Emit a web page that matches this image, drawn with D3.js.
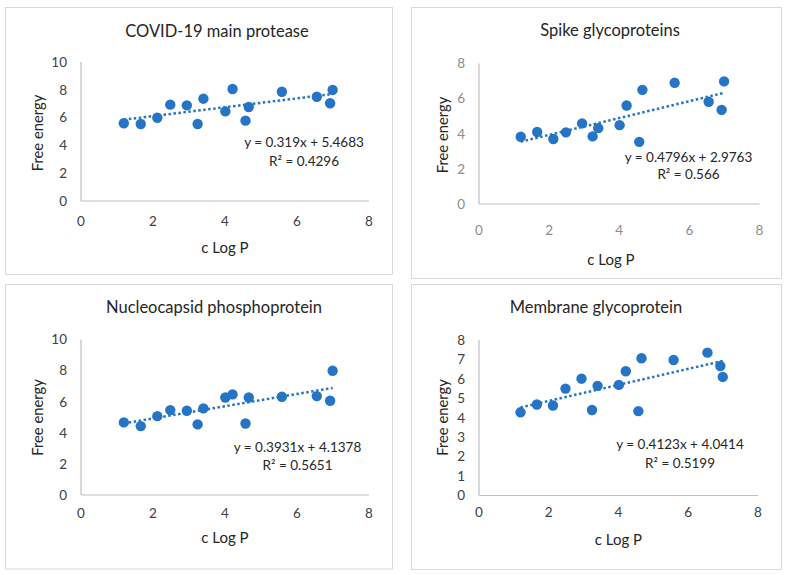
<!DOCTYPE html>
<html><head><meta charset="utf-8">
<script src="https://cdn.jsdelivr.net/npm/d3@7"></script>
<style>
html,body{margin:0;padding:0;background:#fff;}
text{font-family:Lato,"Open Sans",sans-serif;}
</style></head>
<body>
<svg id="chart" width="787" height="575"></svg>
<script>
// ---- data ----
const cLogP = [1.19, 1.66, 2.12, 2.48, 2.94, 3.24, 3.40, 4.01, 4.21, 4.57, 4.66, 5.58, 6.55, 6.92, 6.99];
const mainProtease = [5.59, 5.54, 5.99, 6.93, 6.88, 5.54, 7.36, 6.45, 8.06, 5.78, 6.76, 7.86, 7.50, 7.03, 7.99];
const spikeGlyco = [3.83, 4.10, 3.70, 4.08, 4.59, 3.85, 4.32, 4.49, 5.61, 3.54, 6.50, 6.90, 5.82, 5.36, 6.98];
const nucleocapsid = [4.67, 4.43, 5.07, 5.46, 5.42, 4.54, 5.57, 6.27, 6.47, 4.60, 6.27, 6.32, 6.36, 6.06, 7.99];
const membraneGlyco = [4.28, 4.68, 4.63, 5.50, 6.01, 4.40, 5.64, 5.69, 6.39, 4.34, 7.06, 6.97, 7.35, 6.66, 6.10];
const titles = ["COVID-19 main protease", "Spike glycoproteins", "Nucleocapsid phosphoprotein", "Membrane glycoprotein"];
const slopes = [0.319, 0.4796, 0.3931, 0.4123];
const intercepts = [5.4683, 2.9763, 4.1378, 4.0414];
const equations = ["y = 0.319x + 5.4683", "y = 0.4796x + 2.9763", "y = 0.3931x + 4.1378", "y = 0.4123x + 4.0414"];
const r2Labels = ["R² = 0.4296", "R² = 0.566", "R² = 0.5651", "R² = 0.5199"];
const yMax = [10, 8, 10, 8];
const yTickStep = [2, 2, 2, 1];
const xTicks = [0, 2, 4, 6, 8];
const seriesList = [mainProtease, spikeGlyco, nucleocapsid, membraneGlyco];

// ---- layout (pixels) ----
const layout = [
  {box:[5.5,7.5,387,267], x0:81, x1:369, y0:201, y1:62, tickCol:"#404040", xLblY:226, yLblX:67,
   title:[217,37], xTitle:[225,253], yTitle:[38,133], eq:[304,146.5], r2:[304,165.5]},
  {box:[411.5,7.5,370,271], x0:479, x1:759.5, y0:204, y1:63.5, tickCol:"#8c8c8c", xLblY:235, yLblX:465,
   title:[610,36], xTitle:[611,265], yTitle:[443,135], eq:[688.5,161.5], r2:[688.5,179]},
  {box:[5.5,284.5,387,284.5], x0:81, x1:369, y0:495, y1:339.5, tickCol:"#404040", xLblY:518, yLblX:67,
   title:[214,313], xTitle:[225,543], yTitle:[38,417.5], eq:[297.5,451.5], r2:[297.5,469.5]},
  {box:[411.5,284.5,370,285], x0:479, x1:758, y0:495.5, y1:340, tickCol:"#404040", xLblY:516.5, yLblX:465,
   title:[596,313], xTitle:[618.5,545], yTitle:[443,417.5], eq:[680,448.5], r2:[680,467.5]}
];

const svg = d3.select("#chart");
const dotColor = "#2574c6";

seriesList.forEach((vals, i) => {
  const L = layout[i];
  const g = svg.append("g");
  g.append("rect").attr("x", L.box[0]).attr("y", L.box[1]).attr("width", L.box[2]).attr("height", L.box[3])
    .attr("fill", "#fff").attr("stroke", "#d9d9d9").attr("stroke-width", 1);

  const x = d3.scaleLinear().domain([0, 8]).range([L.x0, L.x1]);
  const y = d3.scaleLinear().domain([0, yMax[i]]).range([L.y0, L.y1]);
  const yTicks = d3.range(0, yMax[i] + 0.001, yTickStep[i]);

  // axes lines
  g.append("line").attr("x1", x(0)).attr("x2", x(8)).attr("y1", y(0)).attr("y2", y(0))
    .attr("stroke", "#bfbfbf").attr("stroke-width", 1.2);
  g.append("line").attr("x1", x(0)).attr("x2", x(0)).attr("y1", y(0)).attr("y2", y(yMax[i]))
    .attr("stroke", "#bfbfbf").attr("stroke-width", 1.2);

  // tick labels
  g.selectAll(".xt").data(xTicks).enter().append("text")
    .attr("x", d => x(d)).attr("y", L.xLblY).attr("text-anchor", "middle")
    .attr("font-size", 13.5).attr("fill", L.tickCol).text(d => d);
  g.selectAll(".yt").data(yTicks).enter().append("text")
    .attr("x", L.yLblX).attr("y", d => y(d)).attr("dy", "0.36em").attr("text-anchor", "end")
    .attr("font-size", 13.5).attr("fill", L.tickCol).text(d => d);

  // titles
  g.append("text").attr("x", L.title[0]).attr("y", L.title[1]).attr("text-anchor", "middle")
    .attr("font-size", 16.5).attr("fill", "#262626").text(titles[i]);
  g.append("text").attr("x", L.xTitle[0]).attr("y", L.xTitle[1]).attr("text-anchor", "middle")
    .attr("font-size", 15).attr("fill", "#262626").text("c Log P");
  g.append("text").attr("transform", `translate(${L.yTitle[0]},${L.yTitle[1]}) rotate(-90)`)
    .attr("text-anchor", "middle").attr("dy", "0.35em")
    .attr("font-size", 14.8).attr("fill", "#262626").text("Free energy");

  // trendline
  const xmin = d3.min(cLogP), xmax = d3.max(cLogP);
  g.append("line")
    .attr("x1", x(xmin)).attr("y1", y(slopes[i] * xmin + intercepts[i]))
    .attr("x2", x(xmax)).attr("y2", y(slopes[i] * xmax + intercepts[i]))
    .attr("stroke", dotColor).attr("stroke-width", 2.5).attr("stroke-dasharray", "2.5,2.5");

  // points
  g.selectAll(".pt").data(cLogP.map((c, k) => [c, vals[k]])).enter().append("circle")
    .attr("cx", d => x(d[0])).attr("cy", d => y(d[1])).attr("r", 5.2).attr("fill", dotColor);

  // equation
  g.append("text").attr("x", L.eq[0]).attr("y", L.eq[1]).attr("text-anchor", "middle")
    .attr("font-size", 13.5).attr("fill", "#262626").text(equations[i]);
  g.append("text").attr("x", L.r2[0]).attr("y", L.r2[1]).attr("text-anchor", "middle")
    .attr("font-size", 13.5).attr("fill", "#262626").text(r2Labels[i]);
});
</script>
</body></html>
